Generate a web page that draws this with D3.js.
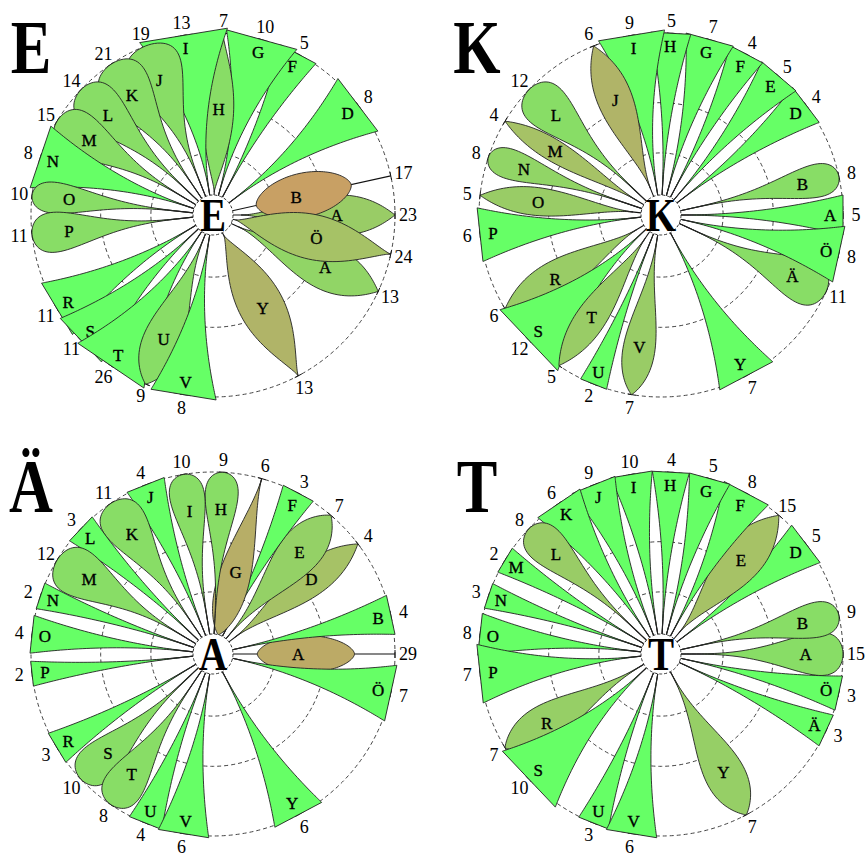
<!DOCTYPE html>
<html><head><meta charset="utf-8">
<script src="https://cdn.jsdelivr.net/npm/d3@7"></script>
<style>body{margin:0;background:#fff}</style>
</head><body><svg id="chart" width="865" height="856"></svg>
<script>
// ---------- data ----------
const slots = ["A","B","C","D","E","F","G","H","I","J","K","L","M","N","O","P","Q","R","S","T","U","V","W","X","Y","Z","Å","Ä","Ö"];
const panelTitles = ["E","K","Ä","T"];
const centerTexts = ["E","K","A","T"];

const lettersE = ["A","B","D","F","G","H","I","J","K","L","M","N","O","P","R","S","T","U","V","Y","Ä","Ö"];
const countsE  = [23,17,8,5,10,7,13,19,21,14,15,8,10,11,11,11,26,9,8,13,13,24];
const shapesE  = ["leaf","spin","tri","tri","tri","lens","tri","drop","drop","drop","drop","tri","drop","drop","tri","tri","tri","dropP","tri","lens","leaf","lens"];
const tonesE   = [2,5,0,0,0,1,0,1,1,1,1,0,1,1,0,0,0,1,0,4,1.5,3];
const breadthE = [40,44,66,40,73,30,89,55,50,45,45,65,31,40,60,60,80,40,66,45,45,45];

const lettersK = ["A","B","D","E","F","G","H","I","J","L","M","N","O","P","R","S","T","U","V","Y","Ä","Ö"];
const countsK  = [5,8,4,5,4,7,5,9,6,12,4,8,5,6,6,12,5,2,7,7,11,8];
const shapesK  = ["tri","drop","tri","tri","tri","tri","tri","tri","leaf","drop","leaf","drop","leaf","tri","leaf","tri","leaf","tri","dropP","tri","drop","tri"];
const tonesK   = [0,1,0,0,0,0,0,0,4,1,3,1.5,2,0,2,0,2,0,2,0,1,0];
const breadthK = [40,33,44,45,37,49,40,67,35,45,22,30,28,54,35,84,30,28,32,60,45,57];

const lettersAE = ["A","B","D","E","F","G","H","I","J","K","L","M","N","O","P","R","S","T","U","V","Y","Ö"];
const countsAE  = [29,4,4,7,3,6,9,10,4,11,3,12,2,4,2,3,10,8,4,6,6,7];
const shapesAE  = ["spin","tri","leaf","dropP","tri","inv","drop","drop","tri","drop","tri","drop","tri","tri","tri","tri","drop","drop","tri","tri","tri","tri"];
const tonesAE   = [4.5,0,3,1.7,0,4.3,1,1,0,1,0,1,0,0,0,0,1,1,0,0,0,0];
const breadthAE = [37,40,33,42,34,32,33,35,40,45,33,48,27,38,25,34,40,40,35,51,53,57];

const lettersT = ["A","B","D","E","F","G","H","I","J","K","L","M","N","O","P","R","S","U","V","Y","Ä","Ö"];
const countsT  = [15,9,5,15,8,5,4,10,9,6,8,2,3,8,7,7,10,3,6,7,3,3];
const shapesT  = ["drop","drop","tri","leaf","tri","tri","tri","tri","tri","tri","drop","tri","tri","tri","tri","dropP","tri","tri","tri","dropP","tri","tri"];
const tonesT   = [1,1,0,3,0,0,0,0,0,0,2,0,0,0,0,1.8,0,0,0,1.8,0,0];
const breadthT = [43,35,47,42,50,42,37,42,46,51,38,28,26,42,59,38,77,32,51,40,34,35];

const panels = [
  {title:panelTitles[0], center:centerTexts[0], letters:lettersE,  counts:countsE,  shapes:shapesE,  tones:tonesE,  breadth:breadthE},
  {title:panelTitles[1], center:centerTexts[1], letters:lettersK,  counts:countsK,  shapes:shapesK,  tones:tonesK,  breadth:breadthK},
  {title:panelTitles[2], center:centerTexts[2], letters:lettersAE, counts:countsAE, shapes:shapesAE, tones:tonesAE, breadth:breadthAE},
  {title:panelTitles[3], center:centerTexts[3], letters:lettersT,  counts:countsT,  shapes:shapesT,  tones:tonesT,  breadth:breadthT}
];

// ---------- layout / scales ----------
const W = 865, H = 856;
const R0 = 20, R1 = 182, LABEL_R = 195;
const SERIF = "'Liberation Serif','DejaVu Serif',serif";
const svg = d3.select("#chart");
svg.append("rect").attr("width", W).attr("height", H).attr("fill", "#fff");

const rScale = d3.scaleLinear().domain([0, 1]).range([R0, R1]);
const aScale = d3.scaleLinear().domain([0, slots.length]).range([0, 2 * Math.PI]);
const wScale = d3.scaleLinear().domain([0, 100]).range([0, 50]);
const toneColor = d3.scaleLinear().domain([0, 1, 2, 3, 4, 5])
  .range(["#66ff66", "#88dd66", "#99cc66", "#a6c266", "#b0b468", "#c8a064"]);
const colX = d3.scaleOrdinal().domain([0, 1]).range([213, 661]);
const rowY = d3.scaleOrdinal().domain([0, 1]).range([215, 654]);
const titleX = d3.scaleOrdinal().domain([0, 1]).range([31, 477]);
const titleY = d3.scaleOrdinal().domain([0, 1]).range([73, 512]);
const ringT = [0.26, 0.57, 1];

function beta(a, b, p = 1) {
  const m = Math.pow(a / (a + b), a) * Math.pow(b / (a + b), b);
  return u => Math.pow(Math.max(0, Math.pow(u, a) * Math.pow(1 - u, b) / m), p);
}
const profiles = {
  tri:   {t0: 0,    t1: 1,    f: u => Math.pow(u, 2.0), lab: 0.92},
  drop:  {t0: 0,    t1: 1,    f: beta(3.2, 0.5),        lab: 0.77},
  dropP: {t0: 0,    t1: 1,    f: beta(2.4, 0.9),        lab: 0.7},
  lens:  {t0: 0.02, t1: 1,    f: beta(1.3, 1.3),        lab: 0.52},
  leaf:  {t0: 0.05, t1: 1,    f: beta(1.8, 1.0),        lab: 0.62},
  inv:   {t0: 0,    t1: 1,    f: beta(0.8, 1.7),        lab: 0.4},
  spin:  {t0: 0.15, t1: 0.75, f: beta(1, 1, 0.6),       lab: 0.42}
};

const line = d3.line().curve(d3.curveLinear);

function dirs(letter) {
  const th = aScale(slots.indexOf(letter));
  return {ux: Math.cos(th), uy: -Math.sin(th), nx: Math.sin(th), ny: Math.cos(th)};
}

function petalPoints(letter, shape, breadth, cx, cy) {
  const prof = profiles[shape];
  const d = dirs(letter);
  const hwMax = wScale(breadth);
  const N = 60;
  const left = [], right = [];
  d3.range(N + 1).forEach(i => {
    const u = (1 - Math.cos(Math.PI * i / N)) / 2;
    const t = prof.t0 + (prof.t1 - prof.t0) * u;
    const r = rScale(t);
    const hw = hwMax * prof.f(u);
    left.push([cx + r * d.ux + hw * d.nx, cy + r * d.uy + hw * d.ny]);
    right.push([cx + r * d.ux - hw * d.nx, cy + r * d.uy - hw * d.ny]);
  });
  return left.concat(right.reverse());
}

// ---------- draw ----------
panels.forEach((pn, idx) => {
  const col = idx % 2, row = Math.floor(idx / 2);
  const cx = colX(col), cy = rowY(row);
  const g = svg.append("g");

  const items = pn.letters.map((l, i) => ({
    letter: l, count: pn.counts[i], shape: pn.shapes[i], tone: pn.tones[i], breadth: pn.breadth[i]
  })).sort((a, b) => slots.indexOf(a.letter) - slots.indexOf(b.letter));

  // rings
  g.selectAll("circle.ring").data(ringT).join("circle")
    .attr("cx", cx).attr("cy", cy).attr("r", t => rScale(t))
    .attr("fill", "none").attr("stroke", "#444").attr("stroke-width", 1)
    .attr("stroke-dasharray", "4,3");

  // spokes
  items.forEach(it => {
    const d = dirs(it.letter);
    g.append("line")
      .attr("x1", cx + R0 * d.ux).attr("y1", cy + R0 * d.uy)
      .attr("x2", cx + R1 * d.ux).attr("y2", cy + R1 * d.uy)
      .attr("stroke", "#111").attr("stroke-width", 1.1);
    g.append("line")
      .attr("x1", cx + R1 * d.ux + 4 * d.nx).attr("y1", cy + R1 * d.uy + 4 * d.ny)
      .attr("x2", cx + R1 * d.ux - 4 * d.nx).attr("y2", cy + R1 * d.uy - 4 * d.ny)
      .attr("stroke", "#111").attr("stroke-width", 1);
  });

  // petals with their letters
  items.forEach(it => {
    const pg = g.append("g");
    pg.append("path")
      .attr("d", line(petalPoints(it.letter, it.shape, it.breadth, cx, cy)) + "Z")
      .attr("fill", toneColor(it.tone))
      .attr("stroke", "#222").attr("stroke-width", 0.9).attr("stroke-linejoin", "round");
    const d = dirs(it.letter);
    const prof = profiles[it.shape];
    const rl = rScale(prof.t0 + (prof.t1 - prof.t0) * prof.lab);
    pg.append("text")
      .attr("x", cx + rl * d.ux).attr("y", cy + rl * d.uy)
      .attr("dy", "0.35em").attr("text-anchor", "middle")
      .attr("font-family", SERIF).attr("font-size", 17).attr("fill", "#000")
      .attr("stroke", "#000").attr("stroke-width", 0.35)
      .text(it.letter);
  });

  // counts outside
  items.forEach(it => {
    const d = dirs(it.letter);
    g.append("text")
      .attr("x", cx + LABEL_R * d.ux).attr("y", cy + LABEL_R * d.uy)
      .attr("dy", "0.35em").attr("text-anchor", "middle")
      .attr("font-family", SERIF).attr("font-size", 18).attr("fill", "#000")
      .text(it.count);
  });

  // center
  g.append("circle").attr("cx", cx).attr("cy", cy).attr("r", R0)
    .attr("fill", "#fff").attr("stroke", "#333").attr("stroke-width", 1)
    .attr("stroke-dasharray", "3,2");
  g.append("text")
    .attr("transform", `translate(${cx},${cy}) scale(0.85,1)`)
    .attr("dy", "0.35em")
    .attr("text-anchor", "middle").attr("font-family", SERIF)
    .attr("font-weight", "bold").attr("font-size", 46).text(pn.center);

  // title
  g.append("text")
    .attr("transform", `translate(${titleX(col)},${titleY(row)}) scale(0.8,1)`)
    .attr("text-anchor", "middle").attr("font-family", SERIF)
    .attr("font-weight", "bold").attr("font-size", 76).text(pn.title);
});
</script>
</body></html>
